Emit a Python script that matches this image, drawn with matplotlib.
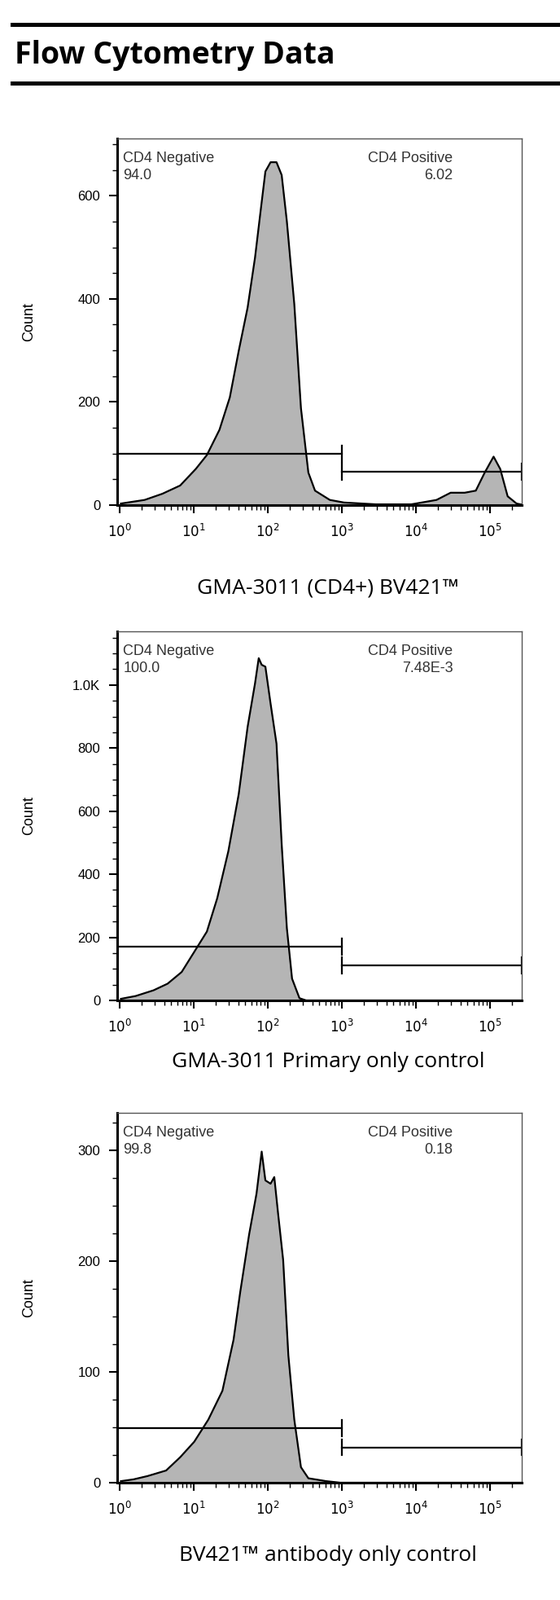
import matplotlib.pyplot as plt
import numpy as np
from matplotlib.ticker import FixedLocator, FixedFormatter, MultipleLocator, NullFormatter

# histogram outlines, x in log10 units of fluorescence, y in counts
P1_LOGX = [0.02, 0.34, 0.58, 0.82, 1.03, 1.18, 1.35, 1.49, 1.61, 1.73, 1.83, 1.90, 1.97, 2.04,
           2.12, 2.19, 2.26, 2.36, 2.45, 2.55, 2.64, 2.84, 3.03, 3.46, 3.94, 4.28, 4.47, 4.66,
           4.81, 4.93, 5.05, 5.14, 5.24, 5.36, 5.43]
P1_COUNT = [3, 10, 22, 38, 70, 97, 146, 209, 299, 383, 480, 564, 647, 665,
            665, 640, 550, 390, 188, 63, 28, 10, 5, 1.5, 1.5, 10, 24, 24,
            28, 63, 94, 70, 17, 3, 1]

P2_LOGX = [0.02, 0.22, 0.46, 0.65, 0.84, 1.01, 1.18, 1.32, 1.47, 1.61, 1.73, 1.83, 1.88, 1.92,
           1.97, 2.04, 2.12, 2.19, 2.26, 2.33, 2.43, 2.52, 5.43]
P2_COUNT = [5, 14, 32, 53, 90, 154, 218, 324, 473, 654, 867, 1005, 1085, 1064,
            1058, 941, 814, 495, 229, 69, 7, 0, 0]

P3_LOGX = [0.02, 0.19, 0.38, 0.63, 0.82, 1.01, 1.20, 1.39, 1.54, 1.63, 1.75, 1.85, 1.92, 1.97,
           2.04, 2.09, 2.14, 2.21, 2.28, 2.36, 2.45, 2.55, 2.79, 2.98, 5.43]
P3_COUNT = [1.4, 3, 6, 11, 23, 37, 57, 83, 129, 172, 224, 261, 299, 273,
            270, 276, 244, 201, 115, 57, 14, 4, 1.4, 0, 0]

NEG_PCT = ["94.0", "100.0", "99.8"]
POS_PCT = ["6.02", "7.48E-3", "0.18"]
NEG_GATE = [100, 170, 49]
POS_GATE = [65, 112, 32]
Y_MAX = [711, 1170, 334]
Y_TICKS = [[0, 200, 400, 600], [0, 200, 400, 600, 800, 1000], [0, 100, 200, 300]]
Y_TICKLABELS = [["0", "200", "400", "600"], ["0", "200", "400", "600", "800", "1.0K"],
                ["0", "100", "200", "300"]]
Y_MINOR = [50, 50, 25]
CAPTIONS = ["GMA-3011 (CD4+) BV421\u2122", "GMA-3011 Primary only control",
            "BV421\u2122 antibody only control"]

W, H = 688, 1964
X_LO, X_HI = 10 ** -0.03, 10 ** 5.43
GATE_SPLIT = 10 ** 3


def draw_panel(ax, logx, count, i):
    x = 10 ** np.asarray(logx)
    y = np.asarray(count, dtype=float)
    ax.fill_between(x, 0, y, color="#b5b5b5", linewidth=0)
    ax.plot(x, y, color="black", linewidth=1.6)
    ax.set_xscale("log")
    ax.set_xlim(X_LO, X_HI)
    ax.set_ylim(0, Y_MAX[i])

    cap = Y_MAX[i] * 0.022
    ng, pg = NEG_GATE[i], POS_GATE[i]
    ax.plot([X_LO * 1.05, GATE_SPLIT], [ng, ng], color="black", linewidth=1.6)
    ax.plot([GATE_SPLIT, GATE_SPLIT], [ng - cap, ng + cap], color="black", linewidth=1.6)
    ax.plot([GATE_SPLIT, X_HI], [pg, pg], color="black", linewidth=1.6)
    ax.plot([GATE_SPLIT, GATE_SPLIT], [pg - cap, pg + cap], color="black", linewidth=1.6)
    ax.plot([X_HI * 0.99, X_HI * 0.99], [pg - cap, pg + cap], color="black", linewidth=1.6)

    ax.text(0.015, 0.965, "CD4 Negative\n" + NEG_PCT[i], transform=ax.transAxes,
            ha="left", va="top", fontsize=13, color="#333333", linespacing=1.3,
            family="Liberation Sans")
    ax.text(0.83, 0.965, "CD4 Positive\n" + POS_PCT[i], transform=ax.transAxes,
            ha="right", va="top", fontsize=13, color="#333333", linespacing=1.3,
            multialignment="right", family="Liberation Sans")

    ax.xaxis.set_major_locator(FixedLocator([10.0 ** k for k in range(6)]))
    ax.xaxis.set_major_formatter(FixedFormatter([f"$10^{k}$" for k in range(6)]))
    minors = [m * 10.0 ** k for k in range(6) for m in range(2, 10)]
    ax.xaxis.set_minor_locator(FixedLocator(minors))
    ax.xaxis.set_minor_formatter(NullFormatter())
    ax.yaxis.set_major_locator(FixedLocator(Y_TICKS[i]))
    ax.yaxis.set_major_formatter(FixedFormatter(Y_TICKLABELS[i]))
    ax.yaxis.set_minor_locator(MultipleLocator(Y_MINOR[i]))
    ax.tick_params(which="major", direction="out", length=7, width=1.5, labelsize=12,
                   colors="black")
    ax.tick_params(which="minor", direction="out", length=4, width=1.0)
    ax.tick_params(axis="x", pad=9, labelsize=12)
    ax.tick_params(axis="y", pad=8)
    for lbl in ax.get_yticklabels() + ax.get_xticklabels():
        lbl.set_family("Liberation Sans")
    ax.set_ylabel("Count", fontsize=13, family="Liberation Sans", labelpad=0)
    ax.yaxis.set_label_coords(-0.2, 0.5)
    ax.spines["left"].set_linewidth(2.2)
    ax.spines["bottom"].set_linewidth(2.2)
    ax.spines["top"].set_linewidth(1.0)
    ax.spines["right"].set_linewidth(1.0)
    ax.spines["top"].set_color("#555555")
    ax.spines["right"].set_color("#555555")


def main() -> None:
    fig = plt.figure(figsize=(W / 100, H / 100), dpi=100)
    fig.patch.set_facecolor("white")

    for yy in (30, 102):
        fig.add_artist(plt.Line2D([15 / W, 1.0], [1 - yy / H, 1 - yy / H], color="black",
                                  linewidth=3.6))
    fig.text(18 / W, 1 - 68 / H, "Flow Cytometry Data", fontsize=27, fontweight="bold",
             family="Open Sans", ha="left", va="center")

    panels = [(P1_LOGX, P1_COUNT, 170, 620), (P2_LOGX, P2_COUNT, 775, 1228),
              (P3_LOGX, P3_COUNT, 1366, 1820)]
    caption_y = [722, 1303, 1910]
    for i, (lx, c, top, bottom) in enumerate(panels):
        ax = fig.add_axes([144 / W, 1 - bottom / H, 497 / W, (bottom - top) / H])
        draw_panel(ax, lx, c, i)
        fig.text(403 / W, 1 - caption_y[i] / H, CAPTIONS[i], fontsize=19, family="Open Sans",
                 ha="center", va="center")

    fig.savefig("out.png", dpi=100)
    plt.close(fig)


if __name__ == "__main__":
    main()
